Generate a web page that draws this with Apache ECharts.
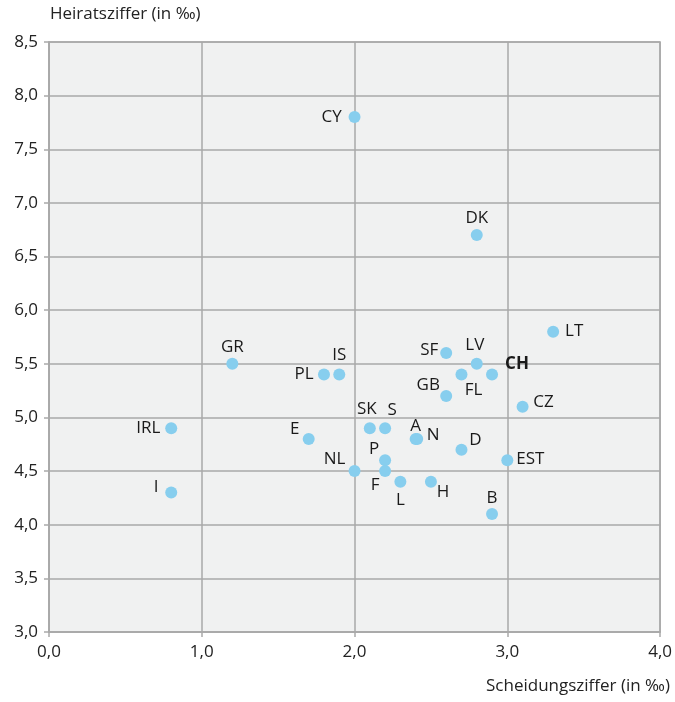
<!DOCTYPE html>
<html>
<head>
<meta charset="utf-8">
<script src="https://cdn.jsdelivr.net/npm/echarts@6/dist/echarts.min.js"></script>
<style>
  html, body { margin: 0; padding: 0; background: #fff; }
  #chart { width: 675px; height: 702px; }
</style>
</head>
<body>
<div id="chart"></div>
<script>
var chartDom = document.getElementById('chart');
var myChart = echarts.init(chartDom);

// country codes and values (per mille)
var countries = ['CY', 'DK', 'LT', 'GR', 'PL', 'IS', 'SF', 'LV', 'CH', 'FL', 'GB', 'CZ', 'IRL', 'E', 'SK', 'S', 'A', 'N', 'D', 'P', 'NL', 'F', 'L', 'H', 'EST', 'B', 'I'];
var scheidung = [2.0, 2.8, 3.3, 1.2, 1.8, 1.9, 2.6, 2.8, 2.9, 2.7, 2.6, 3.1, 0.8, 1.7, 2.1, 2.2, 2.4, 2.41, 2.7, 2.2, 2.0, 2.2, 2.3, 2.5, 3.0, 2.9, 0.8];
var heirat = [7.8, 6.7, 5.8, 5.5, 5.4, 5.4, 5.6, 5.5, 5.4, 5.4, 5.2, 5.1, 4.9, 4.8, 4.9, 4.9, 4.8, 4.8, 4.7, 4.6, 4.5, 4.5, 4.4, 4.4, 4.6, 4.1, 4.3];

// label placement (pixel offset from the dot centre)
var labelOffset = {
  CY: [-23, 0], DK: [0, -17], LT: [21, 0], GR: [0, -17], PL: [-20, 0], IS: [0, -19],
  SF: [-17, -3], LV: [-2, -19], CH: [25, -10], FL: [12, 16], GB: [-18, -11], CZ: [21, -5],
  IRL: [-23, 0], E: [-14, -10], SK: [-3, -19], S: [7, -18], A: [0, -13], N: [16, -4],
  D: [14, -9], P: [-11, -11], NL: [-20, -12], F: [-10, 14], L: [0, 18], H: [12, 10],
  EST: [23, -1], B: [0, -16], I: [-15, -5]
};

var fontFamily = '"Open Sans", sans-serif';
var gridColor = '#a9a9a9';

var points = countries.map(function (c, i) {
  return {
    name: c,
    value: [scheidung[i], heirat[i]],
    label: {
      offset: labelOffset[c],
      fontWeight: c === 'CH' ? 'bold' : 'normal'
    }
  };
});

function fmt(v) {
  return v.toFixed(1).replace('.', ',');
}

var option = {
  animation: false,
  textStyle: { fontFamily: fontFamily },
  grid: {
    left: 49, right: 14, top: 42, bottom: 70,
    show: true,
    backgroundColor: '#f0f1f1',
    borderColor: gridColor,
    borderWidth: 1.5
  },
  xAxis: {
    type: 'value',
    min: 0, max: 4, interval: 1,
    axisLine: { show: true, lineStyle: { color: gridColor, width: 1.5 } },
    axisTick: { show: true, length: 5, lineStyle: { color: gridColor, width: 1.5 } },
    axisLabel: { formatter: fmt, color: '#222', fontSize: 17, margin: 12, fontFamily: fontFamily },
    splitLine: { show: true, lineStyle: { color: gridColor, width: 1.5 } }
  },
  yAxis: {
    type: 'value',
    min: 3, max: 8.5, interval: 0.5,
    axisLine: { show: true, lineStyle: { color: gridColor, width: 1.5 } },
    axisTick: { show: true, length: 5, lineStyle: { color: gridColor, width: 1.5 } },
    axisLabel: { formatter: fmt, color: '#222', fontSize: 17, margin: 11, fontFamily: fontFamily },
    splitLine: { show: true, lineStyle: { color: gridColor, width: 1.5 } }
  },
  graphic: [
    {
      type: 'text', left: 50, top: 6,
      style: { text: 'Heiratsziffer (in ‰)', fill: '#222', font: '17px ' + fontFamily }
    },
    {
      type: 'text', right: 5, top: 678,
      style: { text: 'Scheidungsziffer (in ‰)', fill: '#222', font: '17px ' + fontFamily }
    }
  ],
  series: [
    {
      type: 'scatter',
      symbolSize: 12,
      itemStyle: { color: '#87ceee', opacity: 1 },
      label: {
        show: true,
        position: 'inside',
        formatter: '{b}',
        color: '#1a1a1a',
        fontSize: 17,
        fontFamily: fontFamily,
        align: 'center',
        verticalAlign: 'middle'
      },
      data: points
    }
  ]
};

option && myChart.setOption(option);
</script>
</body>
</html>
